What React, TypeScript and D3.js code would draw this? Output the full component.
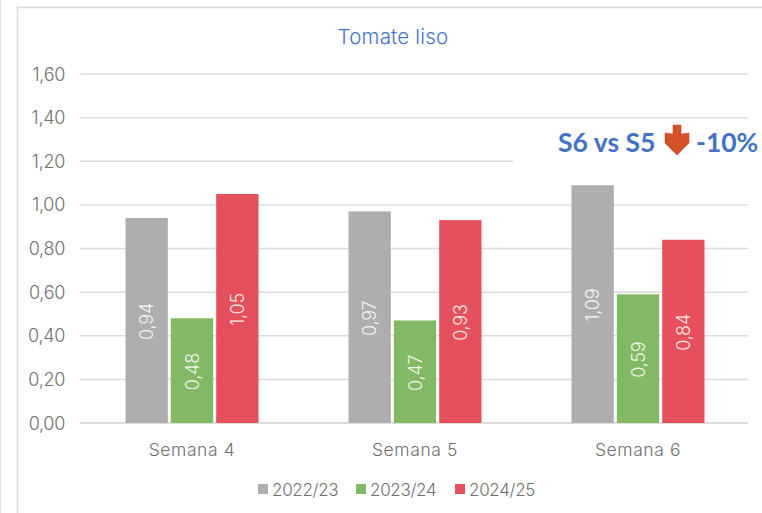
import React from "react";
import * as d3 from "d3";

const weeks = ["Semana 4", "Semana 5", "Semana 6"];
const seasons = ["2022/23", "2023/24", "2024/25"];
const colors = ["#aeaeae", "#82b964", "#e6505c"];
const values2223 = [0.94, 0.97, 1.09];
const values2324 = [0.48, 0.47, 0.59];
const values2425 = [1.05, 0.93, 0.84];
const yTicks = [0, 0.2, 0.4, 0.6, 0.8, 1.0, 1.2, 1.4, 1.6];

const seriesValues = [values2223, values2324, values2425];
const fmt = (v: number) => v.toFixed(2).replace(".", ",");
const FONT = "'Inter', 'Lato', sans-serif";

export default function App() {
  const x = d3.scaleBand().domain(weeks).range([80.5, 749.5]);
  const inner = d3
    .scaleBand()
    .domain(seasons)
    .range([0, 133])
    .paddingInner(0.067);
  const y = d3.scaleLinear().domain([0, 1.6]).range([423, 74]);
  const groupOffset = (x.bandwidth() - 133) / 2;

  return (
    <svg
      width={762}
      height={513}
      style={{ position: "absolute", left: 0, top: 0, background: "#fff" }}
    >
      {/* chart frame */}
      <line x1={0.5} x2={0.5} y1={0} y2={513} stroke="#e4e4e4" />
      <path d="M17.5,513V7.5H762" fill="none" stroke="#d9d9d9" strokeWidth={1.5} />

      <text x={393} y={44} textAnchor="middle" fontFamily={FONT} fontWeight={300} fontSize={20.5} letterSpacing={0.2} fill="#4472c4">
        Tomate liso
      </text>

      {yTicks.map((t) => (
        <g key={t}>
          <line x1={80} x2={748} y1={y(t)} y2={y(t)} stroke="#dcdcdc" strokeWidth={t === 0 ? 2 : 1.5} />
          <text x={65} y={y(t) + 6.5} textAnchor="end" fontFamily={FONT} fontWeight={300} fontSize={18} letterSpacing={-0.3} fill="#707070">
            {fmt(t)}
          </text>
        </g>
      ))}

      {/* text box of the annotation hides part of the 1,20 gridline */}
      <rect x={513} y={128} width={249} height={40} fill="#fff" />

      {weeks.map((w, i) => (
        <g key={w} transform={`translate(${(x(w) as number) + groupOffset},0)`}>
          {seasons.map((s, j) => {
            const v = seriesValues[j][i];
            const bx = inner(s) as number;
            const cx = bx + inner.bandwidth() / 2;
            const cy = (y(v) + y(0)) / 2;
            return (
              <g key={s}>
                <rect x={bx} y={y(v)} width={inner.bandwidth()} height={y(0) - y(v)} fill={colors[j]} />
                <text
                  transform={`translate(${cx + 6.5},${cy + 1}) rotate(-90)`}
                  textAnchor="middle"
                  fontFamily={FONT}
                  fontWeight={300}
                  fontSize={18}
                  letterSpacing={-0.2}
                  fill="#fff"
                  fillOpacity={0.9}
                >
                  {fmt(v)}
                </text>
              </g>
            );
          })}
          <text x={66.5} y={456} textAnchor="middle" fontFamily={FONT} fontWeight={300} fontSize={17.5} letterSpacing={0.6} fill="#707070">
            {w}
          </text>
        </g>
      ))}

      {seasons.map((s, j) => {
        const lx = [258, 356, 455][j];
        return (
          <g key={s}>
            <rect x={lx} y={484} width={10} height={10} fill={colors[j]} />
            <text x={lx + 14} y={495.5} fontFamily={FONT} fontWeight={300} fontSize={17} letterSpacing={-0.3} fill="#707070">
              {s}
            </text>
          </g>
        );
      })}

      <text x={558} y={152} fontFamily="Lato, sans-serif" fontWeight={700} fontSize={26.5} fill="#4472c4">
        S6 vs S5
      </text>
      <path d="M673,125h8v9l8,-1v10l-12,12l-12,-12v-10l8,1z" fill="#d4512a" stroke="#b8451f" strokeWidth={0.5} />
      <text x={696} y={152} fontFamily="Lato, sans-serif" fontWeight={700} fontSize={26.5} fill="#4472c4">
        -10%
      </text>
    </svg>
  );
}
